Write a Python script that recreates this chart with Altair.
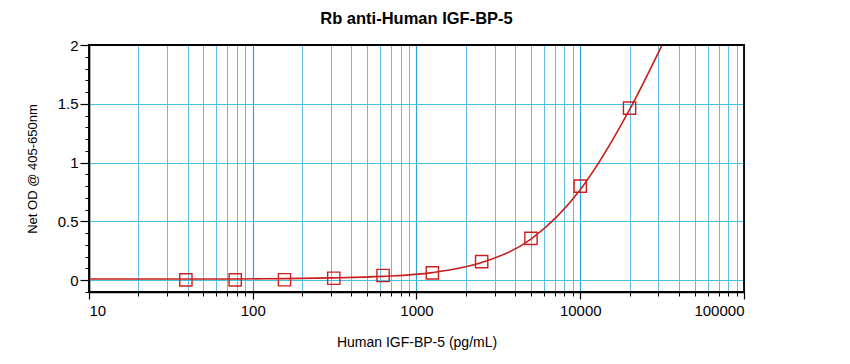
import altair as alt
import pandas as pd

# Standard points (concentration pg/mL, net OD)
conc = [39.06, 78.13, 156.25, 312.5, 625, 1250, 2500, 5000, 10000, 20000]
od = [0.003, 0.003, 0.004, 0.017, 0.04, 0.062, 0.158, 0.356, 0.80, 1.463]

# Fitted curve
curve_x = [10, 39, 78, 156, 312, 625, 1250, 2500, 5000, 10000, 20000, 31600]
curve_y = [0.01, 0.01, 0.011, 0.014, 0.02, 0.033, 0.065, 0.15, 0.35, 0.77, 1.45, 2.0]

x_domain = [10, 100000]
y_domain = [-0.1, 2]
x_major = [10, 100, 1000, 10000, 100000]
x_minor = [10, 20, 30, 40, 50, 60, 70, 80, 90,
           100, 200, 300, 400, 500, 600, 700, 800, 900,
           1000, 2000, 3000, 4000, 5000, 6000, 7000, 8000, 9000,
           10000, 20000, 30000, 40000, 50000, 60000, 70000, 80000, 90000, 100000]
y_major = [0, 0.5, 1, 1.5, 2]
y_minor = [-0.1, 0, 0.1, 0.2, 0.3, 0.4, 0.5, 0.6, 0.7, 0.8, 0.9, 1.0,
           1.1, 1.2, 1.3, 1.4, 1.5, 1.6, 1.7, 1.8, 1.9, 2.0]

pts = pd.DataFrame({"x": conc, "y": od})
crv = pd.DataFrame({"x": curve_x, "y": curve_y})
frame = pd.DataFrame({"x": [x_domain[0]], "x2": [x_domain[1]],
                      "y": [y_domain[0]], "y2": [y_domain[1]]})

FONT = "Liberation Sans"
xscale = alt.Scale(type="log", domain=x_domain, nice=False)
yscale = alt.Scale(domain=y_domain, nice=False, zero=False)

minor_x_axis = alt.Axis(values=x_minor, labels=False, title=None, tickSize=4,
                        tickColor="black", grid=True, gridColor="#62bfe4",
                        gridOpacity=1, gridWidth=1, domain=False, orient="bottom")
minor_y_axis = alt.Axis(values=y_minor, labels=False, title=None, tickSize=4,
                        tickColor="black", grid=False, domain=False, orient="left")

major_x_axis = alt.Axis(values=x_major, format="d", title="Human IGF-BP-5 (pg/mL)",
                        tickSize=7, tickColor="black", tickWidth=1.2,
                        grid=True, gridColor="#2aa2d4", gridOpacity=1, gridWidth=1.2,
                        domain=True, domainColor="black", domainWidth=1.6,
                        labelFont=FONT, labelFontSize=15, labelColor="black",
                        labelPadding=4, titleFont=FONT, titleFontSize=14,
                        titleFontWeight="normal", titleColor="black",
                        titlePadding=17, orient="bottom")
major_y_axis = alt.Axis(values=y_major, format="~g", title="Net OD @ 405-650nm",
                        tickSize=9, tickColor="black", tickWidth=1.2,
                        grid=True, gridColor="#45c2e2", gridOpacity=1, gridWidth=1.2,
                        domain=True, domainColor="black", domainWidth=1.6,
                        labelFont=FONT, labelFontSize=15, labelColor="black",
                        labelPadding=2, titleFont=FONT, titleFontSize=13,
                        titleFontWeight="normal", titleColor="black",
                        titlePadding=18, orient="left")

line = alt.Chart(crv).mark_line(color="#c81e1e", strokeWidth=1.6,
                                interpolate="monotone", clip=True).encode(
    x=alt.X("x:Q", scale=xscale, axis=minor_x_axis),
    y=alt.Y("y:Q", scale=yscale, axis=minor_y_axis),
)

points = alt.Chart(pts).mark_point(shape="square", size=150, filled=False,
                                   color="#cc2020", opacity=1,
                                   strokeWidth=1.4).encode(
    x=alt.X("x:Q", scale=xscale, axis=major_x_axis),
    y=alt.Y("y:Q", scale=yscale, axis=major_y_axis),
)

box = alt.Chart(frame).mark_rect(filled=False, stroke="black",
                                 strokeWidth=1.8).encode(
    x=alt.X("x:Q", scale=xscale, axis=None),
    x2="x2:Q",
    y=alt.Y("y:Q", scale=yscale, axis=None),
    y2="y2:Q",
)

chart = alt.layer(line, points, box).resolve_axis(x="independent", y="independent").properties(
    width=655,
    height=247,
    autosize=alt.AutoSizeParams(type="none"),
    padding={"left": 81, "top": 37, "right": 90, "bottom": 60},
    title=alt.TitleParams("Rb anti-Human IGF-BP-5", font=FONT, fontSize=16.5,
                          fontWeight="bold", color="black", offset=11),
).configure_view(stroke=None).configure(background="white")

chart.save("out.html", embed_options={"renderer": "svg", "actions": False})
